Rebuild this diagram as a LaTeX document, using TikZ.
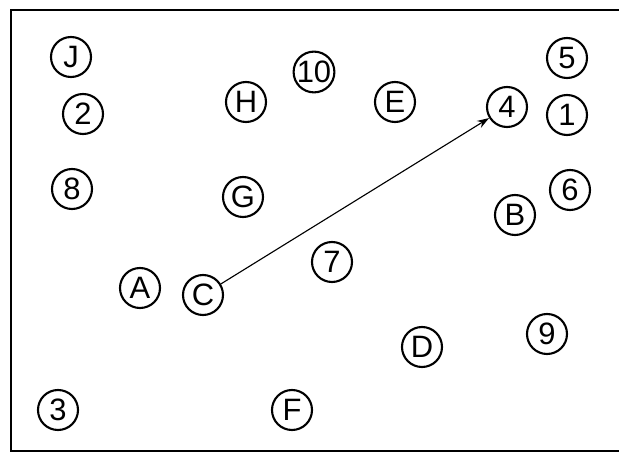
\documentclass[tikz,border=0pt]{standalone}
\usepackage{fontspec}
\setsansfont{Liberation Sans}
\usetikzlibrary{arrows.meta}
\tikzset{
  spot/.style={circle, draw=black, line width=1.5pt, minimum size=10mm, inner sep=0pt, font=\sffamily\fontsize{22}{22}\selectfont},
  frame/.style={line width=1.6pt},
  arrow/.style={-{Stealth[length=3mm, width=2mm]}, line width=0.8pt}
}
\begin{document}
\begin{tikzpicture}[x=0.025cm, y=-0.025cm]
  \useasboundingbox (0,0) rectangle (619,458);
  \draw[frame] (619,10) -- (11,10) -- (11,451) -- (619,451);
  % letters
  \node[spot] (nJ) at (71,57) {J};
  \node[spot] (nH) at (246,102) {H};
  \node[spot] (nE) at (395,102) {E};
  \node[spot] (nG) at (243,197) {G};
  \node[spot] (nB) at (515,215) {B};
  \node[spot] (nA) at (140,288) {A};
  \node[spot] (nC) at (203,295) {C};
  \node[spot] (nD) at (422,347) {D};
  \node[spot] (nF) at (292,410) {F};
  % numbers
  \node[spot] (n10) at (314,72) {10};
  \node[spot] (n5) at (567,58) {5};
  \node[spot] (n2) at (83,114) {2};
  \node[spot] (n4) at (507,107) {4};
  \node[spot] (n1) at (567,115) {1};
  \node[spot] (n8) at (72,189) {8};
  \node[spot] (n6) at (570,190) {6};
  \node[spot] (n7) at (332,262) {7};
  \node[spot] (n9) at (547,334) {9};
  \node[spot] (n3) at (58,410) {3};
  \draw[arrow] (nC) -- (n4);
\end{tikzpicture}
\end{document}
